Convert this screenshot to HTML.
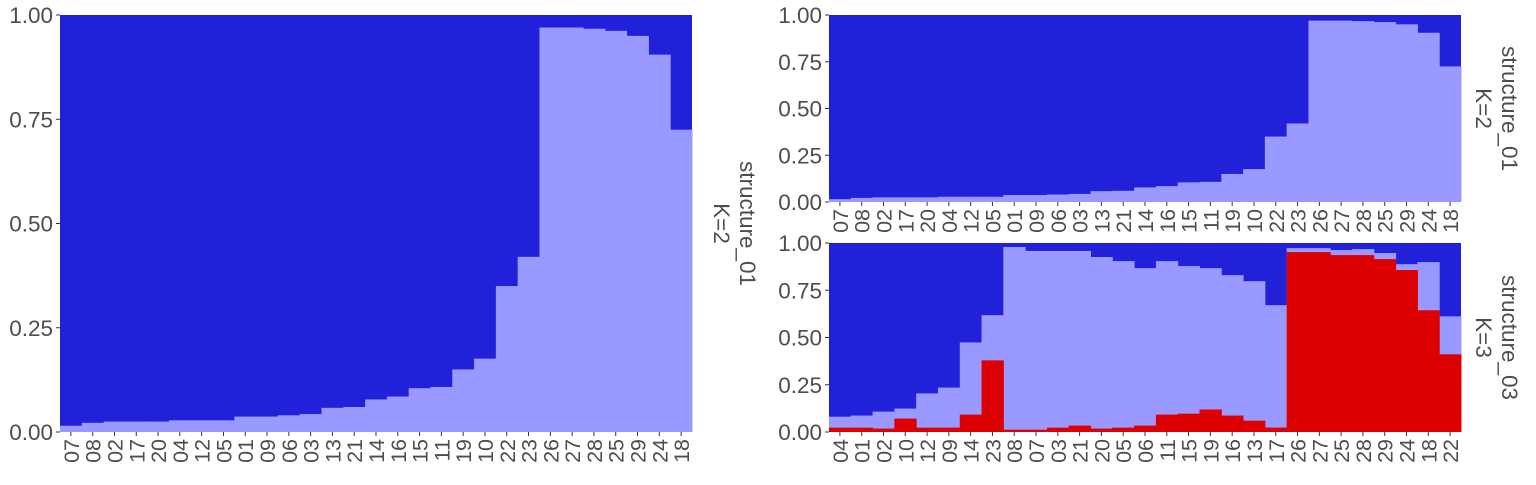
<!DOCTYPE html>
<html><head><meta charset="utf-8"><style>
body{margin:0;background:#fff;width:1536px;height:480px;overflow:hidden}
text{font-family:"Liberation Sans",sans-serif;fill:#4d4d4d}
</style></head><body>
<svg id="s" width="1536" height="480"></svg>
<script>
const k2Labels=["07","08","02","17","20","04","12","05","01","09","06","03","13","21","14","16","15","11","19","10","22","23","26","27","28","25","29","24","18"];
const k2Light=[0.015,0.022,0.025,0.025,0.025,0.028,0.028,0.028,0.037,0.037,0.040,0.043,0.058,0.060,0.078,0.085,0.105,0.108,0.15,0.176,0.35,0.42,0.97,0.97,0.967,0.962,0.95,0.905,0.725];
const k3Labels=["04","01","02","10","12","09","14","23","08","07","03","21","20","05","06","11","15","19","16","13","17","26","27","25","28","29","24","18","22"];
const k3Red=[0.023,0.023,0.018,0.071,0.023,0.023,0.092,0.379,0.012,0.012,0.023,0.034,0.018,0.023,0.034,0.092,0.097,0.119,0.087,0.06,0.023,0.952,0.952,0.936,0.936,0.915,0.857,0.644,0.411];
const k3Light=[0.058,0.064,0.090,0.053,0.181,0.212,0.382,0.239,0.967,0.946,0.935,0.924,0.908,0.881,0.833,0.812,0.781,0.748,0.743,0.738,0.648,0.021,0.021,0.027,0.032,0.032,0.031,0.255,0.201];
const ticks=["0.00","0.25","0.50","0.75","1.00"];
const NS="http://www.w3.org/2000/svg";
const svg=document.getElementById('s');
function mk(t,a,p){const e=document.createElementNS(NS,t);for(const k in a)e.setAttribute(k,a[k]);(p||svg).appendChild(e);return e;}
function panel(name,x0,x1,y0,y1,labels,layers,strip1,strip2,sx){
  const g=mk('g',{});
  
  
  const n=labels.length,bw=(x1-x0)/n;
  const xs=i=>x0+i*bw, ys=v=>y1-v*(y1-y0);
  mk('rect',{x:x0,y:y0,width:x1-x0,height:y1-y0,fill:'#2121d9'},g);
  layers.forEach(L=>{
    labels.forEach((lab,i)=>{
      let v=0;L.vals.forEach(a=>v+=a[i]);
      const r=mk('rect',{x:xs(i),y:ys(v),width:bw+0.5,height:y1-ys(v),fill:L.col},g);
      
      
    });
  });
  ticks.forEach((t,j)=>{
    const y=ys(j*0.25);
    mk('line',{x1:x0-4,x2:x0,y1:y,y2:y,stroke:'#333'},g);
    const tx=mk('text',{x:x0-7,y:y+8,'text-anchor':'end','font-size':22.5},g);tx.textContent=t;
    
    
  });
  labels.forEach((lab,i)=>{
    const cx=xs(i)+bw/2;
    mk('line',{x1:cx,x2:cx,y1:y1,y2:y1+4,stroke:'#333'},g);
    const tx=mk('text',{transform:`translate(${cx+8},${y1+7}) rotate(-90)`,'text-anchor':'end','font-size':21.5},g);tx.textContent=lab;
    
    
  });
  const cy=(y0+y1)/2;
  const s1=mk('text',{transform:`translate(${sx},${cy}) rotate(90)`,'text-anchor':'middle','font-size':22.5},g);s1.textContent=strip1;
  
  
  const s2=mk('text',{transform:`translate(${sx-26},${cy}) rotate(90)`,'text-anchor':'middle','font-size':22.5},g);s2.textContent=strip2;
  
  
}
panel('left-panel-k2',60,692,15,432,k2Labels,[{col:'#9999ff',vals:[k2Light]}],'structure_01','K=2',740);
panel('right-top-panel-k2',829,1461,15,202,k2Labels,[{col:'#9999ff',vals:[k2Light]}],'structure_01','K=2',1502);
panel('right-bottom-panel-k3',829,1461,243,432,k3Labels,[{col:'#9999ff',vals:[k3Red,k3Light]},{col:'#dd0000',vals:[k3Red]}],'structure_03','K=3',1502);
</script>
</body></html>
